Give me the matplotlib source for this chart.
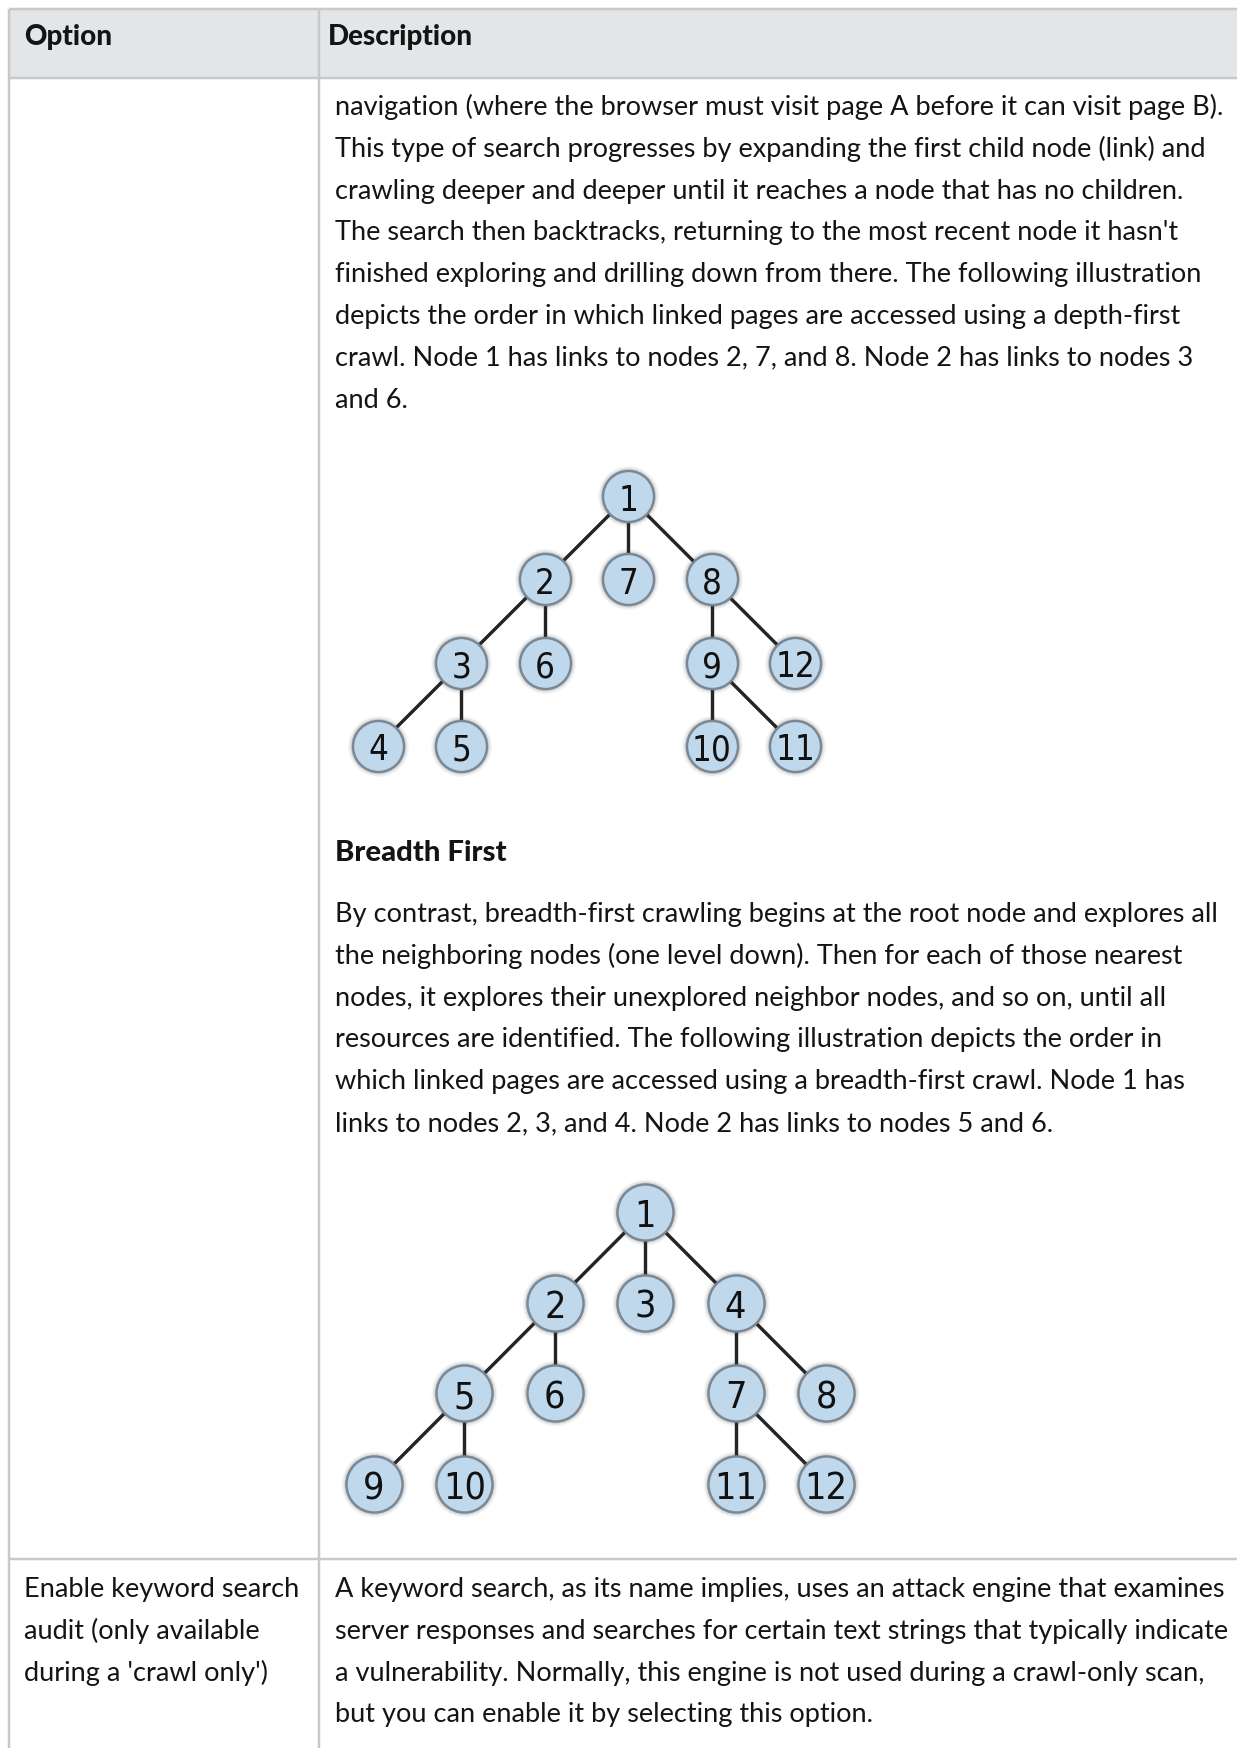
import matplotlib
matplotlib.use("Agg")
import matplotlib.pyplot as plt
from matplotlib import font_manager as fm

# ---------------- data ----------------
header_labels = ["Option", "Description"]

row1_lines_a = [
    "navigation (where the browser must visit page A before it can visit page B).",
    "This type of search progresses by expanding the first child node (link) and",
    "crawling deeper and deeper until it reaches a node that has no children.",
    "The search then backtracks, returning to the most recent node it hasn't",
    "finished exploring and drilling down from there. The following illustration",
    "depicts the order in which linked pages are accessed using a depth-first",
    "crawl. Node 1 has links to nodes 2, 7, and 8. Node 2 has links to nodes 3",
    "and 6.",
]
row1_heading = "Breadth First"
row1_lines_b = [
    "By contrast, breadth-first crawling begins at the root node and explores all",
    "the neighboring nodes (one level down). Then for each of those nearest",
    "nodes, it explores their unexplored neighbor nodes, and so on, until all",
    "resources are identified. The following illustration depicts the order in",
    "which linked pages are accessed using a breadth-first crawl. Node 1 has",
    "links to nodes 2, 3, and 4. Node 2 has links to nodes 5 and 6.",
]
row2_option = ["Enable keyword search", "audit (only available", "during a 'crawl only')"]
row2_lines = [
    "A keyword search, as its name implies, uses an attack engine that examines",
    "server responses and searches for certain text strings that typically indicate",
    "a vulnerability. Normally, this engine is not used during a crawl-only scan,",
    "but you can enable it by selecting this option.",
]

# depth-first tree: node label, parent, grid column, grid level
tree1_labels = [1, 2, 3, 4, 5, 6, 7, 8, 9, 10, 11, 12]
tree1_parent = [None, 1, 2, 3, 3, 2, 1, 1, 8, 9, 9, 8]
tree1_col = [3, 2, 1, 0, 1, 2, 3, 4, 4, 4, 5, 5]
tree1_level = [0, 1, 2, 3, 3, 2, 1, 1, 2, 3, 3, 2]

# breadth-first tree
tree2_labels = [1, 2, 3, 4, 5, 6, 7, 8, 9, 10, 11, 12]
tree2_parent = [None, 1, 1, 1, 2, 2, 4, 4, 5, 5, 7, 7]
tree2_col = [3, 2, 3, 4, 1, 2, 4, 5, 0, 1, 4, 5]
tree2_level = [0, 1, 1, 1, 2, 2, 2, 2, 3, 3, 3, 3]


# ---------------- fonts ----------------
def _w(f):
    w = f.weight
    if isinstance(w, str):
        w = fm.weight_dict.get(w, 400)
    return int(w)


def find_font(cands):
    for name, stretch, wmin, wmax in cands:
        for f in fm.fontManager.ttflist:
            if f.name != name or f.style != "normal":
                continue
            if stretch is not None and str(f.stretch) != stretch:
                continue
            if not (wmin <= _w(f) <= wmax):
                continue
            return f.fname
    return None


digit_file = find_font([
    ("DejaVu Sans", "condensed", 350, 450),
    ("DejaVu Sans Condensed", None, 350, 450),
    ("Liberation Sans Narrow", None, 350, 450),
    ("Roboto Condensed", None, 350, 450),
])
if digit_file:
    DIGIT_FP = fm.FontProperties(fname=digit_file)
    digit_scale = 1.0
else:
    DIGIT_FP = fm.FontProperties(family="DejaVu Sans")
    digit_scale = 0.9

heavy_file = find_font([("Lato", None, 800, 1000)])
if heavy_file:
    HEAVY_FP = fm.FontProperties(fname=heavy_file)
else:
    HEAVY_FP = fm.FontProperties(family=["Lato", "DejaVu Sans"], weight="bold")
BODY_FP = fm.FontProperties(family=["Lato", "DejaVu Sans"])

# ---------------- layout ----------------
W, H = 1237, 1749
DPI = 100
fig = plt.figure(figsize=(W / DPI, H / DPI), dpi=DPI)
fig.patch.set_facecolor("white")
ax = fig.add_axes([0, 0, 1, 1])
ax.set_xlim(0, W)
ax.set_ylim(H, 0)
ax.axis("off")

TXT = "#141414"
LINE = "#c9c9c9"
PX = 72.0 / DPI  # points per pixel

fig.canvas.draw()
rend = fig.canvas.get_renderer()


def fit_size(text, target_px, fp, base=20.0):
    p = fp.copy()
    p.set_size(base)
    t = ax.text(0, 0, text, fontproperties=p)
    w = t.get_window_extent(renderer=rend).width
    t.remove()
    return base * target_px / w


def sized(fp, size):
    p = fp.copy()
    p.set_size(size)
    return p


body_fp = sized(BODY_FP, fit_size(row1_lines_a[0], 893, BODY_FP))
head_fp = sized(HEAVY_FP, fit_size(header_labels[0], 88, HEAVY_FP))
sub_fp = sized(HEAVY_FP, fit_size(row1_heading, 172, HEAVY_FP))

# table geometry (pixels)
left_x, div_x, right_x = 9, 319, W
top_y, head_y, row_y = 10, 79, 1560
lw_tab = 2.5 * PX

ax.fill_between([left_x, right_x], top_y, head_y, color="#e3e6e8", zorder=0, lw=0)
for yy in (top_y, head_y, row_y):
    ax.plot([left_x, right_x], [yy, yy], color=LINE, lw=lw_tab, solid_capstyle="butt")
for xx in (left_x, div_x):
    ax.plot([xx, xx], [top_y, H], color=LINE, lw=lw_tab, solid_capstyle="butt")

# header text
ax.text(24, 45, header_labels[0], fontproperties=head_fp, color=TXT, va="baseline", ha="left")
ax.text(328, 45, header_labels[1], fontproperties=head_fp, color=TXT, va="baseline", ha="left")

LS = 41.8
col2_x = 335
for i, s in enumerate(row1_lines_a):
    ax.text(col2_x, 115 + i * LS, s, fontproperties=body_fp, color=TXT, va="baseline", ha="left")
ax.text(col2_x, 861, row1_heading, fontproperties=sub_fp, color=TXT, va="baseline", ha="left")
for i, s in enumerate(row1_lines_b):
    ax.text(col2_x, 922 + i * LS, s, fontproperties=body_fp, color=TXT, va="baseline", ha="left")
for i, s in enumerate(row2_lines):
    ax.text(col2_x, 1597 + i * LS, s, fontproperties=body_fp, color=TXT, va="baseline", ha="left")
for i, s in enumerate(row2_option):
    ax.text(24, 1597 + i * LS, s, fontproperties=body_fp, color=TXT, va="baseline", ha="left")


# ---------------- trees ----------------
def draw_tree(labels, parents, cols, levels, col0_px, dx, lev0_px, dy, radius_px, num_fs):
    left = col0_px - 0.5 * dx
    top = lev0_px - 0.5 * dy
    width = 6 * dx
    height = 4 * dy
    tax = fig.add_axes([left / W, 1 - (top + height) / H, width / W, height / H])
    tax.set_xlim(-0.5, 5.5)
    tax.set_ylim(3.5, -0.5)
    tax.axis("off")
    pos = {lab: (c, l) for lab, c, l in zip(labels, cols, levels)}
    for lab, par in zip(labels, parents):
        if par is None:
            continue
        (x0, y0), (x1, y1) = pos[par], pos[lab]
        tax.plot([x0, x1], [y0, y1], color="#242424", lw=3.4 * PX, zorder=1,
                 solid_capstyle="butt", clip_on=False)
    xs = list(cols)
    ys = list(levels)
    d_pt = 2 * radius_px * PX
    for extra, alpha in [(5, 0.05), (3.5, 0.08), (2.2, 0.12), (1.2, 0.18)]:
        tax.scatter(xs, ys, s=((2 * (radius_px + extra)) * PX) ** 2, color="#3a4046",
                    alpha=alpha, lw=0, zorder=2, clip_on=False)
    tax.scatter(xs, ys, s=d_pt ** 2, facecolor="#c0d8eb", edgecolor="#7a8895",
                lw=2.4 * PX, zorder=3, clip_on=False)
    fp = sized(DIGIT_FP, num_fs * digit_scale)
    for lab, c, l in zip(labels, cols, levels):
        tax.text(c, l, str(lab), fontproperties=fp, color="#111111",
                 ha="center", va="center_baseline", zorder=4)


draw_tree(tree1_labels, tree1_parent, tree1_col, tree1_level,
          col0_px=378, dx=83.4, lev0_px=497, dy=83.3, radius_px=25.5, num_fs=25)
draw_tree(tree2_labels, tree2_parent, tree2_col, tree2_level,
          col0_px=374, dx=90.4, lev0_px=1213, dy=90.7, radius_px=28, num_fs=27)

fig.savefig("out.png", dpi=DPI, facecolor="white")
